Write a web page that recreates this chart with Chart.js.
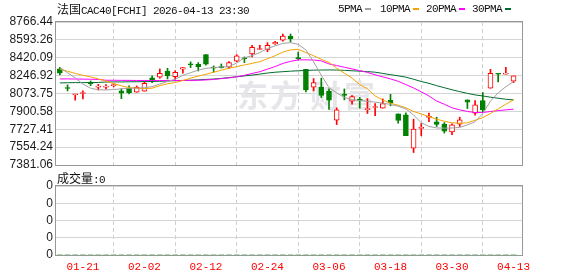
<!DOCTYPE html>
<html>
<head>
<meta charset="utf-8">
<script src="https://cdn.jsdelivr.net/npm/chart.js@4"></script>
<style>
html,body{margin:0;padding:0;background:#fff;}
#wrap{position:relative;width:578px;height:276px;overflow:hidden;background:#fff;}
.t{position:absolute;font:11px "Liberation Mono","Noto Sans CJK SC",monospace;color:#111;white-space:nowrap;letter-spacing:-0.6px;z-index:5;line-height:12px;}
.cj{font-family:"Noto Sans CJK SC";letter-spacing:0;font-size:12px;}
.dash{position:absolute;height:2px;width:6px;z-index:5;}
canvas{position:absolute;left:0;}
</style>
</head>
<body>
<div id="wrap">
  <div class="t" style="left:57px;top:3px"><span class="cj">法国</span>CAC40[FCHI] 2026-04-13 23:30</div>
  <div class="t" style="left:338px;top:3px">5PMA</div><div class="dash" style="left:365px;top:8px;background:#a0a0a0"></div>
  <div class="t" style="left:380px;top:3px">10PMA</div><div class="dash" style="left:413px;top:8px;background:#f5a300"></div>
  <div class="t" style="left:426px;top:3px">20PMA</div><div class="dash" style="left:459px;top:8px;background:#ff00ff"></div>
  <div class="t" style="left:472px;top:3px">30PMA</div><div class="dash" style="left:505px;top:8px;background:#006b2e"></div>
  <canvas id="main" width="578" height="185" style="top:0"></canvas>
  <div class="t" style="left:57px;top:172px"><span class="cj">成交量</span>:0</div>
  <canvas id="vol" width="578" height="106" style="top:170px"></canvas>
</div>
<script>
const dates = ['01-16','01-19','01-20','01-21','01-22','01-23','01-26','01-27','01-28','01-29','01-30',
'02-02','02-03','02-04','02-05','02-06','02-09','02-10','02-11','02-12','02-13','02-16','02-17','02-18','02-19','02-20','02-23','02-24','02-25','02-26','02-27',
'03-02','03-03','03-04','03-05','03-06','03-09','03-10','03-11','03-12','03-13','03-16','03-17','03-18','03-19','03-20','03-23','03-24','03-25','03-26','03-27','03-30','03-31',
'04-01','04-02','04-07','04-08','04-09','04-10','04-13'];

const openV  = [8312,8130,8062,8074,8178,8136,8136,8150,8099,8125,8086,8096,8225,8231,8292,8238,8309,8360,8357,8450,8330,8330,8328,8386,8420,8457,8500,8495,8553,8590,
                8628,8418,8309,8135,8135,8096,7815,8063,7999,8015,7918,7938,7932,8008,7876,7866,7544,7735,7842,7799,7777,7702,7777,8012,7883,8005,8125,8266,8262,8193];
const highV  = [8328,8157,8064,8099,8195,8163,8160,8168,8118,8147,8147,8189,8244,8312,8318,8295,8324,8380,8373,8450,8341,8360,8383,8450,8428,8541,8541,8566,8580,8650,
                8650,8474,8309,8218,8222,8118,7935,8118,8054,8035,8025,7975,8022,8066,7876,7886,7825,7783,7883,7844,7792,7780,7844,8012,8005,8083,8308,8266,8328,8244];
const lowV   = [8253,8099,8009,8022,8150,8108,8115,8138,8024,8070,8086,8096,8179,8222,8215,8212,8270,8325,8292,8347,8280,8320,8318,8380,8373,8428,8500,8479,8550,8580,
                8573,8399,8090,8100,8035,7920,7773,8012,7970,7932,7880,7860,7932,7954,7786,7666,7502,7664,7802,7754,7690,7676,7754,7928,7864,7890,8125,8186,8262,8180];
const closeV = [8270,8122,8064,8079,8170,8143,8142,8156,8077,8083,8135,8173,8193,8270,8244,8280,8324,8350,8334,8357,8318,8325,8373,8438,8410,8522,8504,8541,8570,8631,
                8605,8412,8108,8180,8054,8009,7915,8056,8044,8010,7925,7945,7976,7983,7812,7666,7728,7745,7850,7773,7709,7770,7818,7990,7963,7915,8270,8260,8266,8244];

const ma5  = [8324,8275,8225,8165,8125,8110,8108,8112,8120,8125,8125,8130,8140,8165,8190,8212,8250,8275,8300,8318,8325,8330,8334,8370,8420,8440,8470,8510,8535,8560,
              8566,8550,8496,8380,8250,8130,8080,8035,8015,8005,7998,7990,7980,7968,7950,7925,7866,7790,7755,7740,7738,7740,7745,7770,7800,7880,8000,8080,8140,8189];
const ma10 = [8309,8290,8268,8250,8235,8215,8195,8170,8148,8131,8125,8122,8125,8150,8168,8180,8200,8222,8242,8260,8280,8300,8318,8334,8350,8366,8382,8410,8440,8475,
              8496,8502,8470,8440,8405,8375,8320,8270,8222,8160,8120,8050,8010,7980,7960,7935,7899,7875,7850,7825,7805,7790,7786,7790,7815,7840,7880,7925,7970,8012];
const ma20 = [8215,8215,8214,8213,8212,8210,8202,8202,8201,8201,8200,8200,8200,8200,8200,8200,8200,8201,8202,8205,8210,8218,8225,8235,8250,8268,8285,8310,8335,8365,
              8385,8399,8400,8398,8390,8360,8345,8328,8312,8295,8278,8255,8235,8215,8192,8160,8128,8090,8050,8000,7970,7935,7915,7900,7889,7890,7899,7908,7915,7922];
const ma30 = [8176,8178,8179,8179,8180,8181,8185,8186,8186,8187,8188,8189,8190,8192,8195,8198,8200,8203,8206,8210,8214,8220,8228,8236,8244,8252,8262,8272,8280,8285,
              8290,8294,8297,8300,8301,8302,8301,8298,8294,8290,8286,8280,8268,8256,8245,8232,8212,8190,8172,8150,8130,8110,8092,8075,8060,8050,8038,8028,8018,8012];

const volumes = [0,0,0,0,0,0,0,0,0,0,0,0,0,0,0,0,0,0,0,0,0,0,0,0,0,0,0,0,0,0,
                 0,0,0,0,0,0,0,0,0,0,0,0,0,0,0,0,0,0,0,0,0,0,0,0,0,0,0,0,0,0];

const yTickLabels   = ['8766.44','8593.26','8420.09','8246.92','8073.75','7900.58','7727.41','7554.24','7381.06'];
const volTickLabels = ['0','0','0','0','0'];
const xTickLabels   = ['01-21','02-02','02-12','02-24','03-06','03-18','03-30','04-13'];

const RED = '#ff0000', GREEN = '#008000';
const isUp = i => closeV[i] >= openV[i];
const xIdx = xTickLabels.map(l => dates.indexOf(l));
const X_MIN = -0.5, X_MAX = 60.1;

const frame = {
  id: 'frame',
  afterDraw(chart) {
    const a = chart.chartArea, c = chart.ctx;
    c.save();
    c.strokeStyle = '#979797'; c.lineWidth = 1;
    c.strokeRect(Math.round(a.left) - 0.5, Math.round(a.top) - 0.5, Math.round(a.right - a.left) + 1, Math.round(a.bottom - a.top) + 1);
    c.restore();
  }
};
const watermark = {
  id: 'watermark',
  beforeDatasetsDraw(chart) {
    const c = chart.ctx;
    c.save();
    c.fillStyle = '#e6e6ea';
    c.font = 'bold 31px "Noto Sans CJK SC"';
    c.textBaseline = 'alphabetic';
    const chars = ['东','方','财','富'], xs = [237, 270, 310, 344];
    chars.forEach((ch, k) => c.fillText(ch, xs[k], 107));
    c.restore();
  }
};

const xTicksSetter = s => { s.ticks = xIdx.map(v => ({value: v})); };
const lbl = (v) => { const k = xIdx.indexOf(Math.round(v)); return k >= 0 ? xTickLabels[k] : ''; };

new Chart(document.getElementById('main'), {
  data: {
    datasets: [
      { type: 'line', label: '5PMA', data: ma5.map((v,i)=>({x:i,y:v})), borderColor: '#a0a0a0', borderWidth: 1, pointRadius: 0, order: 1 },
      { type: 'line', label: '10PMA', data: ma10.map((v,i)=>({x:i,y:v})), borderColor: '#f5a300', borderWidth: 1, pointRadius: 0, order: 1 },
      { type: 'line', label: '20PMA', data: ma20.map((v,i)=>({x:i,y:v})), borderColor: '#ff00ff', borderWidth: 1, pointRadius: 0, order: 1 },
      { type: 'line', label: '30PMA', data: ma30.map((v,i)=>({x:i,y:v})), borderColor: '#006b2e', borderWidth: 1, pointRadius: 0, order: 1 },
      { type: 'bar', label: 'body', data: dates.map((d,i)=>({x:i,y:[openV[i],closeV[i]]})),
        backgroundColor: c => isUp(c.dataIndex) ? '#ffffff' : GREEN,
        borderColor: c => isUp(c.dataIndex) ? RED : GREEN,
        borderWidth: 1, borderSkipped: false, barThickness: 5, minBarLength: 1, grouped: false, order: 2 },
      { type: 'bar', label: 'wick', data: dates.map((d,i)=>({x:i,y:[lowV[i],highV[i]]})),
        backgroundColor: c => isUp(c.dataIndex) ? RED : GREEN,
        borderWidth: 0, barThickness: 1, grouped: false, order: 3 }
    ]
  },
  options: {
    responsive: false, animation: false, devicePixelRatio: 1,
    layout: { padding: { left: 0, right: 56, top: 22, bottom: 20 } },
    plugins: { legend: { display: false }, tooltip: { enabled: false } },
    scales: {
      x: { type: 'linear', min: X_MIN, max: X_MAX, offset: false,
           afterBuildTicks: xTicksSetter,
           afterFit: s => { s.height = 0; },
           ticks: { display: false },
           grid: { color: '#cfcfcf', drawTicks: false },
           border: { display: false, dash: [4, 3] } },
      y: { type: 'linear', min: 7381.06, max: 8766.44,
           afterBuildTicks: s => { s.ticks = yTickLabels.slice().reverse().map(l => ({value: parseFloat(l)})); },
           afterFit: s => { s.width = 56; },
           ticks: { autoSkip: false, padding: 3, color: '#1a1a1a', font: { family: 'Liberation Sans', size: 12 },
                    callback: v => yTickLabels.find(l => Math.abs(parseFloat(l) - v) < 0.01) || '' },
           grid: { color: '#d5d5d5', drawTicks: false },
           border: { display: false } }
    }
  },
  plugins: [watermark, frame]
});

new Chart(document.getElementById('vol'), {
  data: {
    datasets: [
      { type: 'bar', label: 'vol', data: volumes.map((v,i)=>({x:i,y:v})), backgroundColor: GREEN, barThickness: 5 }
    ]
  },
  options: {
    responsive: false, animation: false, devicePixelRatio: 1,
    layout: { padding: { left: 0, right: 56, top: 16, bottom: 0 } },
    plugins: { legend: { display: false }, tooltip: { enabled: false } },
    scales: {
      x: { type: 'linear', min: X_MIN, max: X_MAX, offset: false,
           afterBuildTicks: xTicksSetter,
           afterFit: s => { s.height = 21; },
           ticks: { autoSkip: false, maxRotation: 0, padding: 5, color: '#ff0000', font: { family: 'Liberation Mono', size: 11 }, callback: lbl },
           grid: { color: '#cfcfcf', drawTicks: false },
           border: { display: false, dash: [4, 3] } },
      y: { type: 'linear', min: 0, max: 4,
           afterBuildTicks: s => { s.ticks = volTickLabels.map((l, k) => ({value: k})); },
           afterFit: s => { s.width = 56; },
           ticks: { autoSkip: false, padding: 3, color: '#1a1a1a', font: { family: 'Liberation Sans', size: 12 },
                    callback: (v, k) => volTickLabels[k] },
           grid: { color: '#d5d5d5', drawTicks: false },
           border: { display: false } }
    }
  },
  plugins: [frame]
});
</script>
</body>
</html>
